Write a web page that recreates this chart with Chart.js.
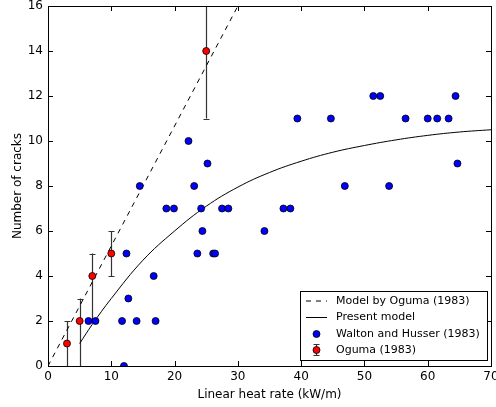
<!DOCTYPE html>
<html>
<head>
<meta charset="utf-8">
<script src="https://cdn.jsdelivr.net/npm/chart.js@4.4.1/dist/chart.umd.min.js"></script>
<style>
html, body { margin: 0; padding: 0; background: #fff; }
</style>
</head>
<body>
<canvas id="chart" width="496" height="407"></canvas>
<script>
// Oguma (1983) measurements with error ranges
const ogumaX = [3, 5, 7, 10, 25];
const ogumaY = [1, 2, 4, 5, 14];
const ogumaLow = [0, 0, 2, 4, 11];
const ogumaHigh = [2, 3, 5, 6, 16];

// Walton and Husser (1983)
const waltonX = [12, 6.4, 7.5, 11.7, 14.0, 17.0, 12.7, 16.7, 12.4, 23.6, 26.1, 26.4,
  24.4, 34.2, 18.7, 19.9, 24.2, 27.5, 28.5, 37.2, 38.3, 14.5, 23.1, 46.9, 53.9,
  25.2, 64.7, 22.2, 39.4, 44.7, 56.5, 60.0, 61.5, 63.3, 51.4, 52.5, 64.4];
const waltonY = [0, 2, 2, 2, 2, 2, 3, 4, 5, 5, 5, 5,
  6, 6, 7, 7, 7, 7, 7, 7, 7, 8, 8, 8, 8,
  9, 9, 10, 11, 11, 11, 11, 11, 11, 12, 12, 12];

// model by Oguma (straight line)
const ogumaModelX = [0, 30];
const ogumaModelY = [0, 16];

// present model curve
const modelX = [5, 7, 10, 15, 20, 25, 30, 35, 40, 45, 50, 55, 60, 65, 70];
const modelY = [1.0, 1.85, 3.0, 4.7, 6.0, 7.1, 7.95, 8.6, 9.1, 9.5, 9.8, 10.05, 10.25, 10.4, 10.5];

const xTicks = [0, 10, 20, 30, 40, 50, 60, 70];
const yTicks = [0, 2, 4, 6, 8, 10, 12, 14, 16];

const FONT = 'DejaVu Sans';

function pts(xs, ys) {
    return xs.map((x, i) => ({ x: x, y: ys[i] }));
}

// error bars under the points
const errorBars = {
    id: 'errorBars',
    beforeDatasetsDraw(chart) {
        const ctx = chart.ctx;
        const xs = chart.scales.x, ys = chart.scales.y;
        const a = chart.chartArea;
        ctx.save();
        ctx.beginPath();
        ctx.rect(a.left, a.top, a.right - a.left, a.bottom - a.top);
        ctx.clip();
        ctx.strokeStyle = '#333';
        ctx.lineWidth = 1.2;
        ogumaX.forEach((x, i) => {
            const px = Math.round(xs.getPixelForValue(x)) + 0.5;
            const lo = ys.getPixelForValue(ogumaLow[i]);
            const hi = ys.getPixelForValue(ogumaHigh[i]);
            ctx.beginPath();
            ctx.moveTo(px, lo); ctx.lineTo(px, hi);
            ctx.moveTo(px - 3, Math.round(lo) + 0.5); ctx.lineTo(px + 3, Math.round(lo) + 0.5);
            ctx.moveTo(px - 3, Math.round(hi) + 0.5); ctx.lineTo(px + 3, Math.round(hi) + 0.5);
            ctx.stroke();
        });
        ctx.restore();
    }
};

// box round the plot, inward ticks on all sides
const frame = {
    id: 'frame',
    afterDatasetsDraw(chart) {
        const ctx = chart.ctx;
        const a = chart.chartArea;
        const xs = chart.scales.x, ys = chart.scales.y;
        const L = 5;
        ctx.save();
        ctx.strokeStyle = '#000';
        ctx.lineWidth = 1;
        ctx.beginPath();
        xTicks.forEach(v => {
            const p = Math.round(xs.getPixelForValue(v)) + 0.5;
            ctx.moveTo(p, a.bottom); ctx.lineTo(p, a.bottom - L);
            ctx.moveTo(p, a.top); ctx.lineTo(p, a.top + L);
        });
        yTicks.forEach(v => {
            const p = Math.round(ys.getPixelForValue(v)) + 0.5;
            ctx.moveTo(a.left, p); ctx.lineTo(a.left + L, p);
            ctx.moveTo(a.right, p); ctx.lineTo(a.right - L, p);
        });
        ctx.stroke();
        ctx.strokeRect(Math.round(a.left) + 0.5, Math.round(a.top) + 0.5,
            Math.round(a.right - a.left), Math.round(a.bottom - a.top));
        ctx.restore();
    }
};

// legend box in lower right of plot
const legendBox = {
    id: 'legendBox',
    afterDraw(chart) {
        const ctx = chart.ctx;
        const bx = 300.5, by = 291.5, bw = 187, bh = 69;
        const rows = [301, 317.5, 334, 350];
        ctx.save();
        ctx.fillStyle = '#fff';
        ctx.strokeStyle = '#000';
        ctx.lineWidth = 1;
        ctx.fillRect(bx, by, bw, bh);
        ctx.strokeRect(bx, by, bw, bh);
        const hx0 = 306, hx1 = 327, hc = 316.5;
        // dashed
        ctx.beginPath();
        ctx.setLineDash([5, 5]);
        ctx.moveTo(hx0, rows[0]); ctx.lineTo(hx1, rows[0]);
        ctx.stroke();
        ctx.setLineDash([]);
        // solid
        ctx.beginPath();
        ctx.moveTo(hx0, rows[1]); ctx.lineTo(hx1, rows[1]);
        ctx.stroke();
        // blue marker
        ctx.beginPath();
        ctx.arc(hc, rows[2], 3.5, 0, Math.PI * 2);
        ctx.fillStyle = '#0000ff';
        ctx.fill();
        ctx.lineWidth = 0.8;
        ctx.stroke();
        // red marker with error bar
        ctx.strokeStyle = '#333';
        ctx.lineWidth = 1.2;
        ctx.beginPath();
        ctx.moveTo(hc, rows[3] - 6); ctx.lineTo(hc, rows[3] + 6);
        ctx.moveTo(hc - 3, rows[3] - 5.5); ctx.lineTo(hc + 3, rows[3] - 5.5);
        ctx.moveTo(hc - 3, rows[3] + 5.5); ctx.lineTo(hc + 3, rows[3] + 5.5);
        ctx.stroke();
        ctx.strokeStyle = '#000';
        ctx.beginPath();
        ctx.arc(hc, rows[3], 3.5, 0, Math.PI * 2);
        ctx.fillStyle = '#ff0000';
        ctx.fill();
        ctx.lineWidth = 0.8;
        ctx.stroke();
        // labels from dataset names
        const labels = chart.data.datasets.map(d => d.label);
        ctx.fillStyle = '#000';
        ctx.font = '11px "' + FONT + '"';
        ctx.textBaseline = 'middle';
        ctx.textAlign = 'left';
        labels.forEach((t, i) => ctx.fillText(t, 336, rows[i]));
        ctx.restore();
    }
};

new Chart(document.getElementById('chart'), {
    type: 'scatter',
    data: {
        datasets: [
            {
                label: 'Model by Oguma (1983)',
                data: pts(ogumaModelX, ogumaModelY),
                showLine: true,
                borderColor: '#000',
                borderWidth: 1,
                borderDash: [5, 5],
                pointRadius: 0,
                clip: 0,
                order: 3
            },
            {
                label: 'Present model',
                data: pts(modelX, modelY),
                showLine: true,
                borderColor: '#000',
                borderWidth: 1,
                pointRadius: 0,
                tension: 0.4,
                clip: 0,
                order: 2
            },
            {
                label: 'Walton and Husser (1983)',
                data: pts(waltonX, waltonY),
                backgroundColor: '#0000ff',
                borderColor: '#000',
                borderWidth: 0.8,
                pointRadius: 3.5,
                clip: 0,
                order: 1
            },
            {
                label: 'Oguma (1983)',
                data: pts(ogumaX, ogumaY),
                backgroundColor: '#ff0000',
                borderColor: '#000',
                borderWidth: 0.8,
                pointRadius: 3.5,
                clip: 0,
                order: 0
            }
        ]
    },
    options: {
        responsive: false,
        animation: false,
        devicePixelRatio: 1,
        layout: { padding: { top: 6, right: 5, left: 0, bottom: 0 } },
        plugins: {
            legend: { display: false },
            tooltip: { enabled: false }
        },
        scales: {
            x: {
                type: 'linear',
                min: 0, max: 70,
                grid: { display: false, drawTicks: false },
                border: { display: false },
                ticks: {
                    stepSize: 10, autoSkip: false, padding: 4,
                    color: '#000', font: { family: FONT, size: 12 }
                },
                title: {
                    display: true, text: 'Linear heat rate (kW/m)',
                    color: '#000', font: { family: FONT, size: 12 },
                    padding: { top: 0, bottom: 5 }
                },
                afterFit(s) { s.height = 41; s.paddingLeft = 0; s.paddingRight = 0; }
            },
            y: {
                type: 'linear',
                min: 0, max: 16,
                grid: { display: false, drawTicks: false },
                border: { display: false },
                ticks: {
                    stepSize: 2, autoSkip: false, padding: 5,
                    color: '#000', font: { family: FONT, size: 12 }
                },
                title: {
                    display: true, text: 'Number of cracks',
                    color: '#000', font: { family: FONT, size: 12 },
                    padding: { top: 11, bottom: 0 }
                },
                afterFit(s) { s.width = 48; s.paddingTop = 0; s.paddingBottom = 0; }
            }
        }
    },
    plugins: [errorBars, frame, legendBox]
});
</script>
</body>
</html>
